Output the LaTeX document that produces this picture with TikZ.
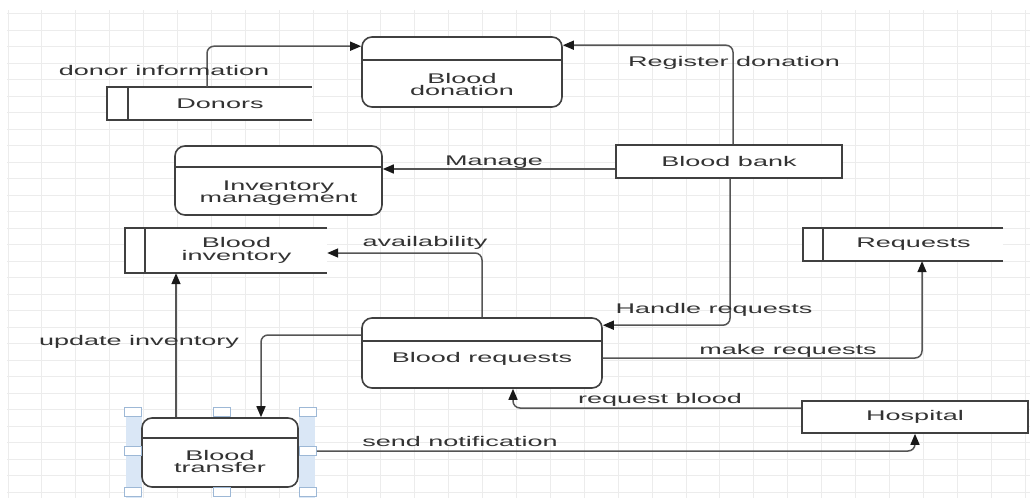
\documentclass[tikz,border=0pt]{standalone}
\usepackage{fontspec}
\setmainfont[FakeStretch=1.93]{Liberation Sans}
\usetikzlibrary{arrows.meta}
\definecolor{ink}{HTML}{333333}
\definecolor{wire}{HTML}{555555}
\definecolor{edge}{HTML}{404040}
\definecolor{gridc}{HTML}{ECECEC}
\definecolor{selband}{HTML}{DAE7F6}
\definecolor{handlec}{HTML}{9DB8D6}

\begin{document}
\begin{tikzpicture}[x=1pt,y=-1pt,
  txt/.style={font=\fontsize{14}{12.5}\selectfont, text=ink, inner sep=0pt, align=center},
  procbox/.style={draw=edge, line width=1.6pt, fill=white, rounded corners=10pt, inner sep=0pt},
  entbox/.style={draw=edge, line width=1.6pt, fill=white, inner sep=0pt,
    font=\fontsize{14}{12.5}\selectfont, text=ink},
  storebox/.style={fill=white, inner sep=0pt},
  edgeline/.style={draw=edge, line width=1.6pt},
  flow/.style={draw=wire, line width=1.5pt, rounded corners=7pt,
    -{Triangle[length=11pt,width=9pt,color=black!90]}},
  flowlabel/.style={txt, anchor=base},
  hnd/.style={draw=handlec, fill=white, line width=0.9pt, inner sep=0pt,
    minimum width=17pt, minimum height=9pt},
]
\useasboundingbox (0,0) rectangle (1030,498);
\fill[white] (0,0) rectangle (1030,498);

% background grid
\foreach \i in {0,...,30}
  \draw[gridc, line width=1pt] ({8+33.9*\i},10) -- ({8+33.9*\i},498);
\foreach \j in {0,...,29}
  \draw[gridc, line width=0.8pt] (7,{13.6+16.5*\j}) -- (1030,{13.6+16.5*\j});

% processes
\node[procbox, minimum width=200pt, minimum height=70pt] (bd) at (462,72) {};
\draw[edgeline] ([yshift=-24pt]bd.north west) -- ([yshift=-24pt]bd.north east);
\node[txt] (bdt) at ([yshift=-12.3pt]bd.center) {Blood\\donation};

\node[procbox, minimum width=207pt, minimum height=69pt] (im) at (278.5,180.5) {};
\draw[edgeline] ([yshift=-22pt]im.north west) -- ([yshift=-22pt]im.north east);
\node[txt] (imt) at ([yshift=-12.5pt]im.center) {Inventory\\management};

\node[procbox, minimum width=240pt, minimum height=70pt] (br) at (482,353) {};
\draw[edgeline] ([yshift=-24pt]br.north west) -- ([yshift=-24pt]br.north east);
\node[txt] (brt) at ([yshift=-5.6pt]br.center) {Blood requests};

% selection frame around the transfer process
\fill[selband] (126,409) rectangle (142,498);
\fill[selband] (299,409) rectangle (315,498);
\node[procbox, minimum width=156pt, minimum height=69pt] (bt) at (220,452.5) {};
\draw[edgeline] ([yshift=-21pt]bt.north west) -- ([yshift=-21pt]bt.north east);
\node[txt] (btt) at ([yshift=-8.8pt]bt.center) {Blood\\transfer};
\node[hnd] (htl) at (133,412) {};
\node[hnd] (htm) at (222,412) {};
\node[hnd] (htr) at (308,412) {};
\node[hnd] (hml) at (133,451) {};
\node[hnd] (hmr) at (308,451) {};
\node[hnd] (hbl) at (133,492) {};
\node[hnd] (hbm) at (222,492) {};
\node[hnd] (hbr) at (308,492) {};

% external entities
\node[entbox, minimum width=226pt, minimum height=33pt] (bb) at (729,161.5) {Blood bank};
\node[entbox, minimum width=226pt, minimum height=32pt] (hs) at (915,417) {Hospital};

% data stores (open on the right)
\node[storebox, minimum width=205pt, minimum height=33pt] (dn) at (209.5,103.5) {};
\draw[edgeline] (dn.north east) -- (dn.north west) -- (dn.south west) -- (dn.south east);
\draw[edgeline] ([xshift=21pt]dn.north west) -- ([xshift=21pt]dn.south west);
\node[txt] (dnt) at ([xshift=10.5pt]dn.center) {Donors};

\node[storebox, minimum width=202pt, minimum height=45pt] (bi) at (226,250.5) {};
\draw[edgeline] (bi.north east) -- (bi.north west) -- (bi.south west) -- (bi.south east);
\draw[edgeline] ([xshift=20pt]bi.north west) -- ([xshift=20pt]bi.south west);
\node[txt] (bit) at ([xshift=10.5pt]bi.center) {Blood\\inventory};

\node[storebox, minimum width=200pt, minimum height=33pt] (rq) at (903,244.5) {};
\draw[edgeline] (rq.north east) -- (rq.north west) -- (rq.south west) -- (rq.south east);
\draw[edgeline] ([xshift=20pt]rq.north west) -- ([xshift=20pt]rq.south west);
\node[txt] (rqt) at ([xshift=10.5pt]rq.center) {Requests};

% data flows
\draw[flow] ([xshift=-2.5pt]dn.north) |- ([yshift=-10pt]bd.north west);
\draw[flow] ([xshift=4pt]bb.north) |- ([yshift=-9pt]bd.north east);
\coordinate (mg) at ([yshift=-7.5pt]bb.west);
\draw[flow] (mg) -- (mg -| im.east);
\draw[flow] ([xshift=1pt]bb.south) |- ([yshift=-8pt]br.north east);
\draw[flow] (br.north) |- ([yshift=-2.5pt]bi.east);
\draw[flow] ([yshift=-5pt]br.east) -| ([xshift=19pt]rq.south);
\draw[flow] ([yshift=9pt]hs.west) -| ([xshift=31pt]br.south);
\draw[flow] (hmr.east) -| (hs.south);
\draw[flow] ([xshift=-44pt]bt.north) -- ([xshift=-50pt]bi.south);
\draw[flow] ([yshift=18pt]br.west) -| ([xshift=41pt]bt.north);

% flow labels
\node[flowlabel] (l1) at (164,75) {donor information};
\node[flowlabel] (l2) at (734,66) {Register donation};
\node[flowlabel] (l3) at (494,165) {Manage};
\node[flowlabel] (l4) at (425,246) {availability};
\node[flowlabel] (l5) at (714,313) {Handle requests};
\node[flowlabel] (l6) at (139,345) {update inventory};
\node[flowlabel] (l7) at (788,354) {make requests};
\node[flowlabel] (l8) at (660,403) {request blood};
\node[flowlabel] (l9) at (460,446) {send notification};
\end{tikzpicture}
\end{document}
